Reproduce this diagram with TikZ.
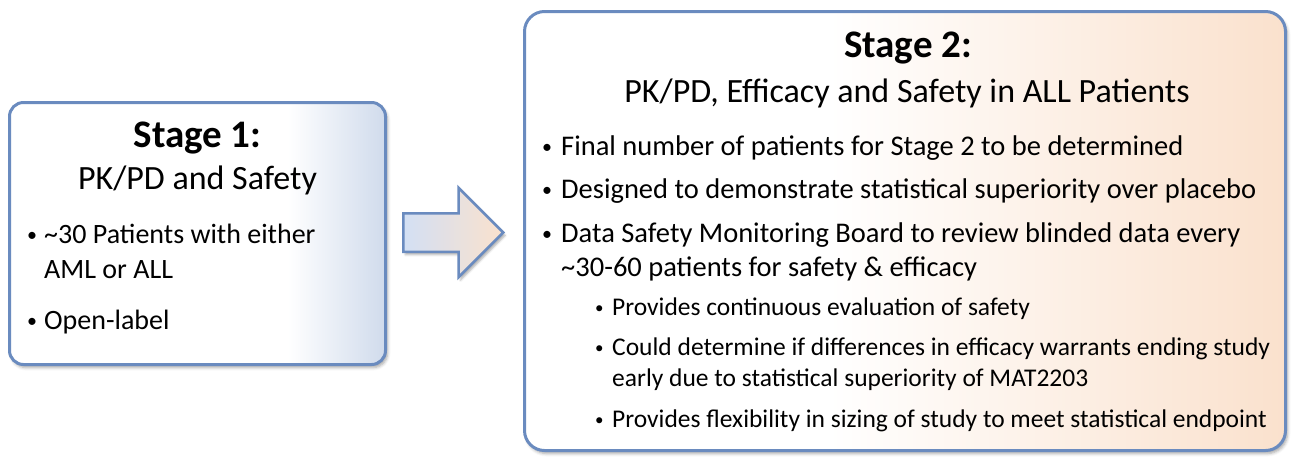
\documentclass[tikz,border=0pt]{standalone}
\usepackage{fontspec}
\setmainfont{Carlito}
\usetikzlibrary{calc}
\usetikzlibrary{positioning}
\usetikzlibrary{shapes.arrows}
\usetikzlibrary{shadows.blur}
\definecolor{frame}{RGB}{106, 139, 191}
\definecolor{bluetint}{RGB}{208, 219, 236}
\definecolor{peach}{RGB}{250, 225, 205}
\definecolor{arrowblue}{RGB}{211, 224, 244}
\pgfdeclarehorizontalshading{stageoneshade}{100bp}{color(0bp)=(white); color(62bp)=(white); color(75bp)=(bluetint); color(100bp)=(bluetint)}
\pgfdeclarehorizontalshading{stagetwoshade}{100bp}{color(0bp)=(white); color(45bp)=(white); color(75bp)=(peach); color(100bp)=(peach)}
\tikzset{stagebox/.style = {draw = frame, line width = 3pt, inner sep = 0,
                            blur shadow = {shadow xshift = 2pt, shadow yshift = -3pt,
                                           shadow blur radius = 3pt, shadow opacity = 35}}}
\tikzset{flowarrow/.style = {single arrow, draw = frame, line width = 2.5pt,
                             left color = arrowblue, right color = peach,
                             inner xsep = 0, inner ysep = 18pt, minimum height = 100pt,
                             single arrow head extend = 25.5pt,
                             blur shadow = {shadow xshift = 2pt, shadow yshift = -3pt,
                                            shadow blur radius = 2pt, shadow opacity = 30}}}
\tikzset{titletext/.style = {anchor = base, inner sep = 0, font = \bfseries\fontsize{39}{46}\selectfont}}
\tikzset{subtext/.style = {anchor = base, inner sep = 0, font = \fontsize{34}{40}\selectfont}}
\tikzset{pointone/.style = {anchor = base west, inner sep = 0, font = \fontsize{28}{34}\selectfont}}
\tikzset{pointtwo/.style = {anchor = base west, inner sep = 0, font = \fontsize{28.5}{34}\selectfont}}
\tikzset{pointsub/.style = {anchor = base west, inner sep = 0, font = \fontsize{25.5}{30}\selectfont}}
\tikzset{dot/.style = {anchor = base west, inner sep = 0, font = \fontsize{#1}{#1}\selectfont}}
\newcommand\bulletmark{\raisebox{2pt}{•}}

\begin{document}
\begin{tikzpicture}[x=1pt, y=-1pt]
  \useasboundingbox (0, 0) rectangle (1292, 456);
  % the two stages
  \node [stagebox, shading = stageoneshade, rounded corners = 14pt,
         minimum width = 376pt, minimum height = 262pt] (stageone) at (197.5, 233.5) {};
  \node [stagebox, shading = stagetwoshade, rounded corners = 20pt,
         minimum width = 761pt, minimum height = 439pt] (stagetwo) at (905, 231) {};
  \node [flowarrow, anchor = tail] (flow) at ($(stageone.east) + (15, -1)$) {};

  % stage 1
  \node [titletext] (headone) at (197.5, 147) {Stage 1:};
  \node [subtext] (subone) at (197.5, 189) {PK/PD and Safety};
  \foreach \y [count = \i] in {243, 329} {
    \node [dot = 20] (dotone\i) at (27, \y) {\bulletmark};
  }
  \node [pointone] (patients) at (44, 243) {\textasciitilde30 Patients with either};
  \node [pointone] (patientsb) at (44, 278) {AML or ALL};
  \node [pointone] (openlabel) at (44, 329) {Open-label};

  % stage 2
  \node [titletext] (headtwo) at (908, 57) {Stage 2:};
  \node [subtext] (subtwo) at (907, 102) {PK/PD, Efficacy and Safety in ALL Patients};
  \foreach \y [count = \i] in {155, 198, 242} {
    \node [dot = 20] (dottwo\i) at (542, \y) {\bulletmark};
  }
  \node [pointtwo] (finalnum) at (561, 155) {Final number of patients for Stage 2 to be determined};
  \node [pointtwo] (designed) at (561, 198) {Designed to demonstrate statistical superiority over placebo};
  \node [pointtwo] (dsmb) at (561, 242) {Data Safety Monitoring Board to review blinded data every};
  \node [pointtwo] (dsmbb) at (561, 276) {\textasciitilde30-60 patients for safety \& efficacy};
  \foreach \y [count = \i] in {315, 355, 427} {
    \node [dot = 17] (dotsub\i) at (595, \y) {\bulletmark};
  }
  \node [pointsub] (continuous) at (612, 315) {Provides continuous evaluation of safety};
  \node [pointsub] (early) at (612, 355) {Could determine if differences in efficacy warrants ending study};
  \node [pointsub] (earlyb) at (612, 386) {early due to statistical superiority of MAT2203};
  \node [pointsub] (flexible) at (612, 427) {Provides flexibility in sizing of study to meet statistical endpoint};
\end{tikzpicture}
\end{document}
